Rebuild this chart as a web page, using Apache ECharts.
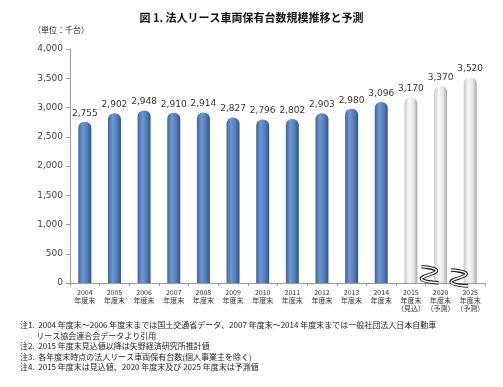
<!DOCTYPE html>
<html><head><meta charset="utf-8">
<script src="https://cdn.jsdelivr.net/npm/echarts@6/dist/echarts.min.js"></script>
<style>html,body{margin:0;padding:0;background:#fff}#c{width:503px;height:387px}</style>
</head><body><div id="c"></div>
<script>
const years = ['2004','2005','2006','2007','2008','2009','2010','2011','2012','2013','2014','2015','2020','2025'];
const suffix = ['','','','','','','','','','','','（見込）','（予測）','（予測）'];
const values = [2755, 2902, 2948, 2910, 2914, 2827, 2796, 2802, 2903, 2980, 3096, 3170, 3370, 3520];
const forecastFrom = 11;
const yTicks = [0, 500, 1000, 1500, 2000, 2500, 3000, 3500, 4000];
const titleText = '図 1. 法人リース車両保有台数規模推移と予測';
const unitText = '（単位：千台）';
const notes = [
  '注1.  2004 年度末～2006 年度末までは国土交通省データ、2007 年度末～2014 年度末までは一般社団法人日本自動車',
  '         リース協会連合会データより引用',
  '注2.  2015 年度末見込値以降は矢野経済研究所推計値',
  '注3.  各年度末時点の法人リース車両保有台数(個人事業主を除く)',
  '注4.  2015 年度末は見込値、2020 年度末及び 2025 年度末は予測値'
];
const breakCats = [12, 13];

const categories = years.map((y, i) => y + '\n年度末' + (suffix[i] ? '\n' + suffix[i] : ''));
const blue = {type:'linear', x:0, y:0, x2:1, y2:0, colorStops:[
  {offset:0, color:'#3d66a0'},{offset:0.35, color:'#6f97d0'},{offset:0.7, color:'#4f7cba'},{offset:1, color:'#2f5588'}]};
const gray = {type:'linear', x:0, y:0, x2:1, y2:0, colorStops:[
  {offset:0, color:'#c8c8c8'},{offset:0.35, color:'#fafafa'},{offset:0.7, color:'#e6e6e6'},{offset:1, color:'#a8a8a8'}]};
const data = values.map((v, i) => ({
  value: v,
  itemStyle: { color: i >= forecastFrom ? gray : blue, borderRadius: [6,6,0,0] }
}));
const FONT = '"Noto Sans CJK JP", "Noto Sans", sans-serif';
const chart = echarts.init(document.getElementById('c'));
const noteGraphics = notes.map((t, i) => ({
  type:'text', left: 20, top: 321 + i * 10.5,
  style:{ text: t, font: '8px ' + FONT, fill:'#222' }
}));
chart.setOption({
  animation: false,
  textStyle: { fontFamily: FONT },
  title: { text: titleText, left: 'center', top: 7,
    textStyle: { fontSize: 11, fontWeight: 'bold', color: '#111', fontFamily: FONT } },
  grid: { left: 70, right: 18, top: 49, bottom: 104, containLabel: false },
  xAxis: {
    type: 'category', data: categories,
    axisLine: { lineStyle: { color: '#9a9a9a' } },
    axisTick: { show: true, alignWithLabel: false, lineStyle: { color: '#9a9a9a' }, length: 3 },
    axisLabel: { fontSize: 7, color: '#333', lineHeight: 8, margin: 5, interval: 0, fontFamily: FONT }
  },
  yAxis: {
    type: 'value', min: 0, max: 4000, interval: 500,
    axisLine: { show: true, lineStyle: { color: '#9a9a9a' } },
    axisTick: { show: true, length: 4, lineStyle: { color: '#9a9a9a' } },
    splitLine: { show: false },
    axisLabel: { fontSize: 9, color: '#444', margin: 7, fontFamily: 'Verdana, "DejaVu Sans", sans-serif',
      formatter: v => v.toLocaleString('en-US') }
  },
  series: [{
    type: 'bar', data: data, barWidth: 13,
    label: { show: true, position: 'top', distance: 4, fontSize: 9, color: '#333',
      fontFamily: 'Verdana, "DejaVu Sans", sans-serif',
      formatter: p => p.value.toLocaleString('en-US') }
  }]
});
// break marks over forecast bars
const breaks = [];
const breakVals = [140, 85];
breakCats.forEach((ci, k) => {
  const p = chart.convertToPixel({xAxisIndex:0, yAxisIndex:0}, [ci, breakVals[k]]);
  const cx = p[0] - 12, cy = p[1];
  const pts = [[cx-7, cy-8], [cx+8, cy-4], [cx-7, cy+4], [cx+10, cy+8]];
  breaks.push({ type:'polyline', shape:{ points: pts, smooth: 0.5 }, style:{ fill:'none', stroke:'#111', lineWidth: 3.6 }, z: 100 });
  breaks.push({ type:'polyline', shape:{ points: pts, smooth: 0.5 }, style:{ fill:'none', stroke:'#fff', lineWidth: 1.6 }, z: 101 });
});
chart.setOption({ graphic: [
  { type:'text', left: 33, top: 26, style:{ text: unitText, font: '8px ' + FONT, fill:'#222' } },
  ...noteGraphics, ...breaks ] });
</script></body></html>
